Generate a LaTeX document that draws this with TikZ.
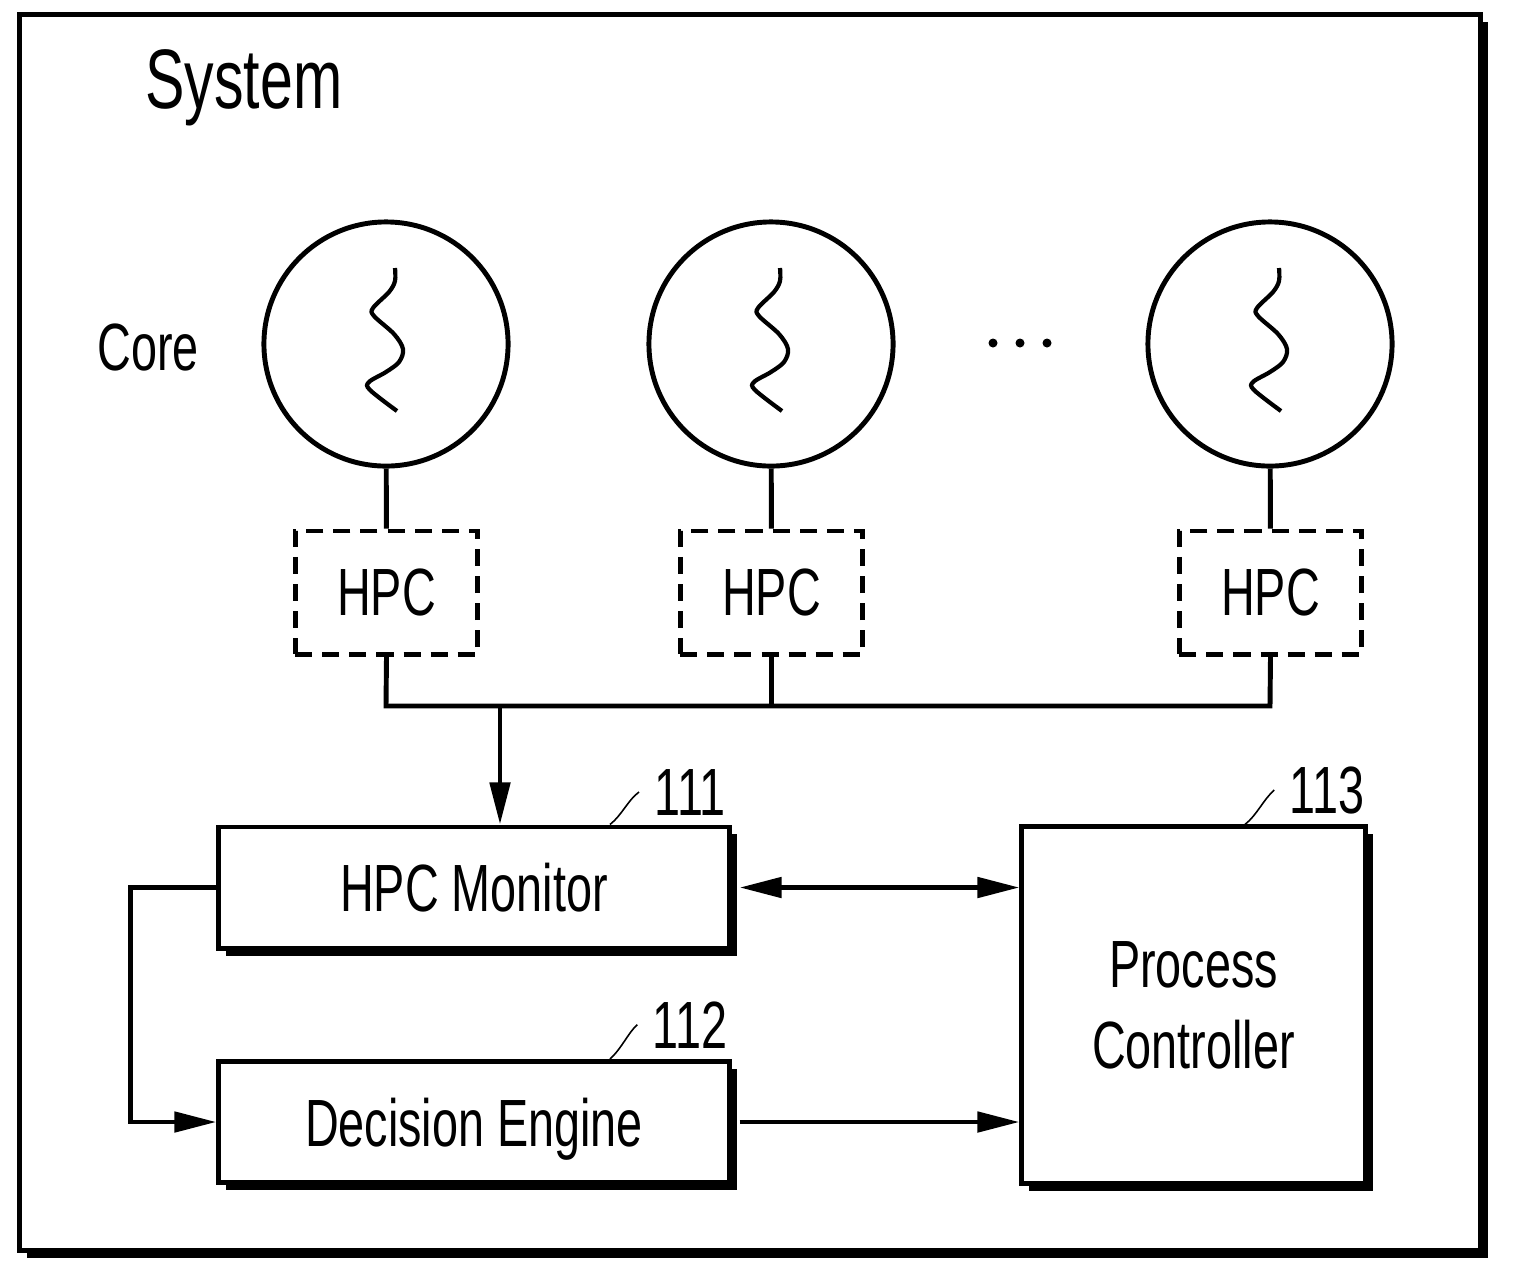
\documentclass[tikz,border=0pt]{standalone}
\usepackage{fontspec}
\setmainfont[FakeStretch=0.7]{Liberation Sans}
\usetikzlibrary{arrows.meta,shadows}
\begin{document}
\begin{tikzpicture}[x=0.01cm,y=-0.01cm,line width=1.4pt,
  >={Triangle[length=0.42cm,width=0.2cm]},
  shadowbox/.style={draw,fill=white,general shadow={fill=black,shadow xshift=0.075cm,shadow yshift=-0.075cm}},
  corebox/.style={draw,circle,minimum size=2.44cm,inner sep=0pt},
  hpcbox/.style={draw,dash pattern=on 0.17cm off 0.1cm,minimum width=1.82cm,minimum height=1.23cm,inner sep=0pt,font=\fontsize{19pt}{22pt}\selectfont},
  blockbox/.style={shadowbox,minimum width=5.1cm,minimum height=1.21cm,inner sep=0pt,text depth=0pt,font=\fontsize{19pt}{22pt}\selectfont},
  reflabel/.style={anchor=base,inner sep=0pt,font=\fontsize{19pt}{22pt}\selectfont},
  leader/.style={line width=0.45pt}]
\useasboundingbox (0,0) rectangle (1515,1284);
% system frame
\node[shadowbox,minimum width=14.6cm,minimum height=12.35cm,inner sep=0pt] (sys) at (750,632.5) {};
\node[anchor=base west,inner sep=0pt,font=\fontsize{24pt}{28pt}\selectfont] (systxt) at (143,108) {System};
\node[anchor=base west,inner sep=0pt,font=\fontsize{19pt}{22pt}\selectfont] (coretxt) at (95,370) {Core};
% cores and counters
\foreach \i/\x in {1/386,2/771,3/1270}{
  \node[corebox] (c\i) at (\x,344) {};
  \draw[line width=1.2pt,shift={(c\i.center)}] plot[smooth,tension=0.55] coordinates
    {(9,-76) (9,-63) (3,-52) (-13,-36) (-12,-28) (8,-10) (17,5) (13,18) (0,28) (-17,38) (-16,46) (11,67)};
  \node[hpcbox] (h\i) at (\x+0.5,592.5) {HPC};
  \draw (c\i) -- (h\i);
}
\foreach \x in {993,1020,1047}
  \fill (\x,343) circle (0.045cm);
% bus
\coordinate (bus1) at (386,706);
\coordinate (bus3) at (1270,706);
\coordinate (tap) at (500,706);
\draw (h1.south) -- (bus1) -- (bus3) -- (h3.south);
\draw (h2.south) -- (h2.south |- bus1);
% blocks
\node[blockbox] (mon) at (474,887.5) {HPC Monitor};
\node[blockbox] (dec) at (474,1122) {Decision Engine};
\node[shadowbox,minimum width=3.43cm,minimum height=3.56cm,inner sep=0pt,align=center,text depth=0pt,font=\fontsize{19pt}{23pt}\selectfont] (pc) at (1193.5,1005) {Process\\Controller};
\draw[->] (tap) -- (tap |- mon.north);
\draw[<->] ([xshift=0.08cm]mon.east) -- (mon.east -| pc.west);
\draw[->] ([xshift=0.08cm]dec.east) -- (dec.east -| pc.west);
\draw[->] (mon.west) -- ++(-86,0) |- (dec.west);
% reference numerals
\node[reflabel] (l111) at (690,815) {111};
\node[reflabel] (l112) at (690,1048) {112};
\node[reflabel] (l113) at (1327,813) {113};
\draw[leader] (mon.north -| 610,0) .. controls (622,815) and (628,800) .. ([xshift=-0.13cm]l111.west);
\draw[leader] (dec.north -| 610,0) .. controls (622,1048) and (628,1033) .. ([xshift=-0.13cm]l112.west);
\draw[leader] (pc.north -| 1245,0) .. controls (1257,815) and (1263,800) .. ([xshift=-0.13cm]l113.west);
\end{tikzpicture}
\end{document}
